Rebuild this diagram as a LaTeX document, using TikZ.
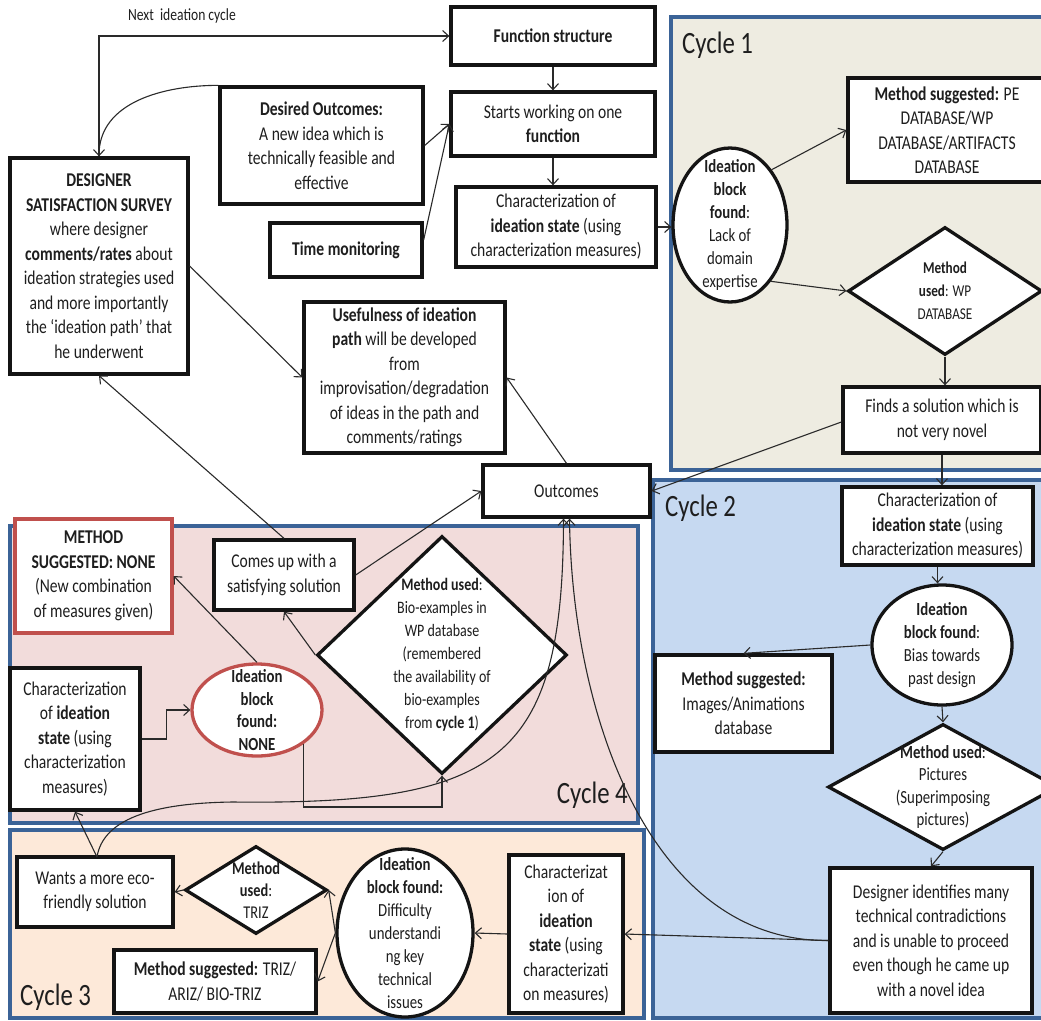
\documentclass[tikz,border=0pt]{standalone}
\usepackage{fontspec}
\setmainfont{Carlito}[FakeStretch=0.8]
\usetikzlibrary{arrows.meta,shapes.geometric,calc}

\definecolor{panelblue}{HTML}{3B6397}
\definecolor{cyctan}{HTML}{EEECE1}
\definecolor{cycblue}{HTML}{C6D9F1}
\definecolor{cycpink}{HTML}{F2DCDB}
\definecolor{cycpeach}{HTML}{FDE9D9}
\definecolor{redbox}{HTML}{C0504D}
\definecolor{inktext}{HTML}{1E1E1E}
\definecolor{inkline}{HTML}{2A2A2A}

% font sizes (1pt = 1 unit of the picture)
\newcommand\txtnorm{\fontsize{19.5}{24.5}\selectfont}
\newcommand\txtell{\fontsize{18.5}{23}\selectfont}
\newcommand\txtbio{\fontsize{17.5}{23}\selectfont}
\newcommand\txtsmall{\fontsize{16.5}{23}\selectfont}
\newcommand\txttriz{\fontsize{18}{22}\selectfont}
\newcommand\txtcyc{\fontsize{31}{31}\selectfont}
\newcommand\txtnote{\fontsize{17}{20}\selectfont}

\begin{document}
\begin{tikzpicture}[x=1pt,y=-1pt,
  box/.style={draw=black!92, line width=3.3pt, fill=white, align=center,
    inner sep=2pt, text=inktext, font=\txtnorm},
  bx/.style 2 args={box, minimum width=#1pt, minimum height=#2pt},
  ellbox/.style={ellipse, draw=black!92, line width=3.3pt, fill=white, inner sep=0pt},
  dmbox/.style={diamond, draw=black!92, line width=3.3pt, fill=white, inner sep=0pt},
  tx/.style={align=center, inner sep=0pt, text=inktext},
  panel/.style={draw=panelblue, line width=3.5pt},
  cyclbl/.style={font=\txtcyc, text=inktext, inner sep=0pt},
  arr/.style={draw=inkline, line width=1.1pt, -{Straight Barb[length=6pt,width=11pt]}},
  link/.style={draw=inkline, line width=1.1pt}]

\clip (0,0) rectangle (1041,1020);
\fill[white] (0,0) rectangle (1041,1020);

% ---- cycle panels ----
\draw[panel, fill=cyctan]   (671,17)  rectangle (1060,470);
\draw[panel, fill=cycblue]  (653,480) rectangle (1060,1018);
\draw[panel, fill=cycpink]  (10,526)  rectangle (638,823);
\draw[panel, fill=cycpeach] (10,830)  rectangle (644,1018);

\node[cyclbl, anchor=west] (lc1) at (682,45)  {Cycle 1};
\node[cyclbl, anchor=west] (lc2) at (665,508) {Cycle 2};
\node[cyclbl, anchor=east] (lc4) at (628,795) {Cycle 4};
\node[cyclbl, anchor=west] (lc3) at (20,997)  {Cycle 3};

% ---- main flow ----
\node[font=\txtnote, text=inktext] (nic) at (182,16) {Next~ ideation cycle};
\node[bx={204}{58}, font=\txtnorm\bfseries] (fs) at (553,36) {Function structure};
\node[bx={204}{64}] (sw) at (553,124) {Starts working on one\\\textbf{function}};
\node[bx={200}{80}] (c1char) at (556,227)
  {Characterization of\\\textbf{ideation state} (using\\characterization measures)};
\node[bx={203}{117}] (des) at (321.5,145.5)
  {\textbf{Desired Outcomes:}\\A new idea which is\\technically feasible and\\effective};
\node[bx={152}{54}, font=\txtnorm\bfseries] (tm) at (346,250) {Time monitoring};
\node[bx={178}{216}] (dss) at (99,266)
  {\textbf{DESIGNER}\\\textbf{SATISFACTION SURVEY}\\where designer\\\textbf{comments/rates} about\\
   ideation strategies used\\and more importantly\\the ‘ideation path’ that\\he underwent};
\node[bx={201}{151}] (use) at (404.5,377.5)
  {\textbf{Usefulness of ideation}\\\textbf{path} will be developed\\from\\improvisation/degradation\\
   of ideas in the path and\\comments/ratings};
\node[bx={167}{52}] (out) at (566.5,491) {Outcomes};

% ---- cycle 1 ----
\node[bx={198}{104}] (ms1) at (947,130)
  {\textbf{Method suggested:} PE\\DATABASE/WP\\DATABASE/ARTIFACTS\\DATABASE};
\node[ellbox, minimum width=114pt, minimum height=154pt] (ell1) at (730,225) {};
\node[tx, font=\txtell] (ell1t) at (ell1)
  {\textbf{Ideation}\\\textbf{block}\\\textbf{found}:\\Lack of\\domain\\expertise};
\node[dmbox, minimum width=194pt, minimum height=128pt] (dm1) at (945,291) {};
\node[tx, font=\txtsmall] (dm1t) at (dm1) {\textbf{Method}\\\textbf{used}: WP\\DATABASE};
\node[bx={198}{66}] (finds) at (942,420) {Finds a solution which is\\not very novel};

% ---- cycle 2 ----
\node[bx={191}{78}] (c2char) at (937.5,526)
  {Characterization of\\\textbf{ideation state} (using\\characterization measures)};
\node[ellbox, minimum width=140pt, minimum height=120pt] (ell2) at (942,645) {};
\node[tx, font=\txtell] (ell2t) at (ell2)
  {\textbf{Ideation}\\\textbf{block found}:\\Bias towards\\past design};
\node[bx={177}{97}] (ms2) at (743.5,703.5)
  {\textbf{Method suggested:}\\Images/Animations\\database};
\node[dmbox, minimum width=230pt, minimum height=126pt] (dm2) at (943,787) {};
\node[tx, font=\fontsize{18.5}{22.5}\selectfont] (dm2t) at (dm2)
  {\textbf{Method used}:\\Pictures\\(Superimposing\\pictures)};
\node[bx={202}{145}] (ident) at (931,940.5)
  {Designer identifies many\\technical contradictions\\and is unable to proceed\\
   even though he came up\\with a novel idea};

% ---- cycle 4 ----
\node[bx={157}{114}, draw=redbox] (msn) at (93.5,576)
  {\textbf{METHOD}\\\textbf{SUGGESTED: NONE}\\(New combination\\of measures given)};
\node[bx={140}{70}] (comes) at (284,575) {Comes up with a\\satisfying solution};
\node[dmbox, minimum width=250pt, minimum height=238pt] (dm4) at (442,655) {};
\node[tx, font=\txtbio] (dm4t) at (dm4)
  {\textbf{Method used}:\\Bio-examples in\\WP database\\(remembered\\the availability of\\
   bio-examples\\from \textbf{cycle 1})};
\node[bx={130}{142}] (c4char) at (75,739)
  {Characterization\\of \textbf{ideation}\\\textbf{state} (using\\characterization\\measures)};
\node[ellbox, draw=redbox, minimum width=130pt, minimum height=92pt] (ell4) at (257,710) {};
\node[tx, font=\fontsize{18.5}{22.7}\selectfont] (ell4t) at (ell4)
  {\textbf{Ideation}\\\textbf{block}\\\textbf{found:}\\\textbf{NONE}};

% ---- cycle 3 ----
\node[bx={156}{70}] (wants) at (95,892) {Wants a more eco-\\friendly solution};
\node[dmbox, minimum width=142pt, minimum height=88pt] (dm3) at (256,890) {};
\node[tx, font=\txttriz] (dm3t) at (dm3) {\textbf{Method}\\\textbf{used}:\\TRIZ};
\node[bx={202}{63}] (ms3) at (215,981.5) {\textbf{Method suggested:} TRIZ/\\ARIZ/ BIO-TRIZ};
\node[ellbox, minimum width=136pt, minimum height=168pt] (ell3) at (405,933) {};
\node[tx, font=\txtell] (ell3t) at (ell3)
  {\textbf{Ideation}\\\textbf{block found:}\\Difficulty\\understandi\\ng key\\technical\\issues};
\node[bx={114}{158}] (c3char) at (566,934)
  {Characterizat\\ion of\\\textbf{ideation}\\\textbf{state} (using\\characterizati\\on measures)};

% ---- connectors: main flow ----
\draw[arr] (dss.north) -- (dss.north |- fs.west) -- (fs.west);
\draw[arr] (des.north west) to[out=180,in=90] (dss.north);
\draw[arr] (fs.south) -- (fs.south |- sw.north);
\draw[arr] (sw.south) -- (sw.south |- c1char.north);
\draw[arr] (des.east) -- (sw.west);
\draw[arr] ([yshift=10pt]tm.east) -- (sw.west);
\draw[arr] (c1char.east) -- (c1char.east -| ell1.west);
\draw[arr] (dss.east) -- (use.west);
\draw[arr] (out.north) -- (use.east);
\draw[arr] (comes.north) -- (dss.south);
\draw[arr] (comes.east) -- (out.west);

% ---- connectors: cycle 1 ----
\draw[arr] (ell1.53) -- (ms1.west);
\draw[arr] (ell1.-54) -- (dm1.west);
\draw[arr] (dm1.south) -- (dm1.south |- finds.north);
\draw[arr] ([yshift=-2pt]finds.west) -- (out.east);
\draw[arr] (finds.south) -- (finds.south |- c2char.north);

% ---- connectors: cycle 2 ----
\draw[arr] (c2char.south) -- (c2char.south |- ell2.north);
\draw[arr] (ell2.west) -- (ms2.north);
\draw[arr] (ell2.south) -- (dm2.north);
\draw[arr] (dm2.south) -- (ident.north);
\draw[arr] (ident.west) -- (c3char.east);
\draw[arr] (ident.west) .. controls (650,942) and (572,715) .. ([xshift=3pt]out.south);

% ---- connectors: cycle 3 ----
\draw[arr] (c3char.west) -- (ell3.east);
\draw[arr] (ell3.west) -- (dm3.east);
\draw[arr] (ell3.west) -- (ms3.east);
\draw[arr] (dm3.west) -- (wants.east);
\coordinate (wt) at (97,857);
\draw[arr] (wt) -- (c4char.south);
\draw[arr] (wt) .. controls (103,820) and (150,803) .. (233,802)
  .. controls (500,805) and (563,760) .. ([xshift=-3pt]out.south);

% ---- connectors: cycle 4 ----
\draw[arr] (c4char.east) -- ++(25,0) |- (ell4.west);
\draw[arr] (ell4.north) -- (msn.east);
\draw[arr] (ell4.-36) -- (ell4.-36 |- 0,807) -| (dm4.south);
\draw[arr] (dm4.west) -- (comes.south);

\end{tikzpicture}
\end{document}
